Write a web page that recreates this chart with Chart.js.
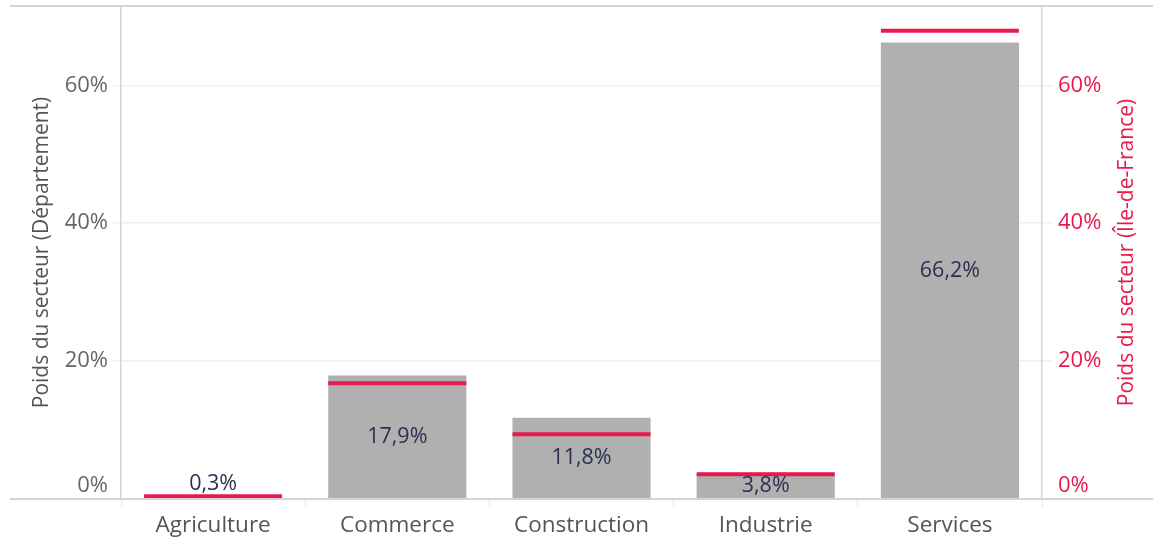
<!DOCTYPE html>
<html>
<head>
<meta charset="utf-8">
<script src="https://cdn.jsdelivr.net/npm/chart.js@4/dist/chart.umd.min.js"></script>
<style>
  html, body { margin: 0; padding: 0; background: #ffffff; }
  #wrap { width: 1153px; height: 537px; position: relative; }
</style>
</head>
<body>
<div id="wrap"><canvas id="c" width="1153" height="537"></canvas></div>
<script>
const categories = ['Agriculture', 'Commerce', 'Construction', 'Industrie', 'Services'];
const departementValues = [0.3, 17.9, 11.8, 3.8, 66.2];
const ileDeFranceValues = [0.4, 16.8, 9.4, 3.6, 67.9];
const tickValues = [0, 20, 40, 60];
const axisMax = 71.5;
const leftTitle = 'Poids du secteur (Département)';
const rightTitle = 'Poids du secteur (Île-de-France)';

const FONT = '"Open Sans", "Noto Sans", sans-serif';
const RED = '#e8194c';
const BAR = '#b0b0b0';
const LABEL = '#2b3050';
const GRAY = '#666666';
const LINE = '#d4d4d4';

function fmt(v) { return v.toFixed(1).replace('.', ',') + '%'; }
function tickFmt(v) { return v === 0 ? ['0%', ''] : v + '%'; }

const extras = {
  id: 'extras',
  afterDatasetsDraw(chart) {
    const ctx = chart.ctx;
    const meta = chart.getDatasetMeta(0);
    ctx.save();
    ctx.font = '21.5px ' + FONT;
    ctx.fillStyle = LABEL;
    ctx.textAlign = 'center';
    ctx.textBaseline = 'middle';
    meta.data.forEach((bar, i) => {
      const h = bar.base - bar.y;
      const y = h > 20 ? (bar.y + bar.base) / 2 : bar.y - 13;
      ctx.fillText(fmt(departementValues[i]), bar.x, y);
    });
    ctx.restore();
  },
  afterDraw(chart) {
    const ctx = chart.ctx;
    const a = chart.chartArea;
    ctx.save();
    ctx.strokeStyle = LINE;
    ctx.lineWidth = 2;
    ctx.beginPath();
    ctx.moveTo(10, a.top); ctx.lineTo(chart.width, a.top);
    ctx.moveTo(10, a.bottom); ctx.lineTo(chart.width, a.bottom);
    ctx.stroke();
    const cy = (a.top + a.bottom) / 2;
    ctx.font = '21px ' + FONT;
    ctx.textAlign = 'center';
    ctx.textBaseline = 'middle';
    ctx.fillStyle = '#555555';
    ctx.translate(42, cy);
    ctx.rotate(-Math.PI / 2);
    ctx.fillText(leftTitle, 0, 0);
    ctx.restore();
    ctx.save();
    ctx.font = '21px ' + FONT;
    ctx.textAlign = 'center';
    ctx.textBaseline = 'middle';
    ctx.fillStyle = RED;
    ctx.translate(1127, cy);
    ctx.rotate(-Math.PI / 2);
    ctx.fillText(rightTitle, 0, 0);
    ctx.restore();
  }
};

function fixPad(s) { s.paddingTop = 0; s.paddingBottom = 0; s.paddingLeft = 0; s.paddingRight = 0; }

new Chart(document.getElementById('c'), {
  data: {
    labels: categories,
    datasets: [
      {
        type: 'bar',
        label: 'Département',
        data: departementValues,
        backgroundColor: BAR,
        borderWidth: 0,
        categoryPercentage: 0.75,
        barPercentage: 1,
        yAxisID: 'y',
        order: 2
      },
      {
        type: 'line',
        label: 'Île-de-France',
        data: ileDeFranceValues,
        showLine: false,
        pointStyle: 'line',
        pointRadius: 69,
        pointHoverRadius: 69,
        pointBorderWidth: 4,
        pointHoverBorderWidth: 4,
        borderColor: RED,
        pointBorderColor: RED,
        backgroundColor: RED,
        yAxisID: 'y2',
        clip: false,
        order: 1
      }
    ]
  },
  options: {
    responsive: false,
    animation: false,
    events: [],
    layout: { autoPadding: false, padding: { top: 6, left: 0, right: 0, bottom: 0 } },
    plugins: { legend: { display: false }, tooltip: { enabled: false } },
    scales: {
      x: {
        offset: true,
        grid: { display: true, offset: true, drawOnChartArea: false, tickLength: 8, color: '#e6e6e6', lineWidth: 1 },
        border: { display: false },
        ticks: { color: '#555555', font: { family: FONT, size: 22.5 }, padding: 5, maxRotation: 0 },
        afterFit(s) { s.height = 38; fixPad(s); }
      },
      y: {
        position: 'left',
        min: 0, max: axisMax,
        grid: { color: '#f0f0f0', lineWidth: 1.5, tickLength: 8, drawTicks: true },
        border: { display: true, color: LINE, width: 1.5 },
        ticks: {
          stepSize: 20, includeBounds: false, padding: 5,
          color: GRAY, font: { family: FONT, size: 22 },
          callback: (v) => tickValues.includes(v) ? tickFmt(v) : null
        },
        afterFit(s) { s.width = 121; fixPad(s); }
      },
      y2: {
        position: 'right',
        min: 0, max: axisMax,
        grid: { display: true, drawOnChartArea: false, color: '#f0f0f0', lineWidth: 1.5, tickLength: 10 },
        border: { display: true, color: LINE, width: 1.5 },
        ticks: {
          stepSize: 20, includeBounds: false, padding: 6,
          color: RED, font: { family: FONT, size: 22 },
          callback: (v) => tickValues.includes(v) ? tickFmt(v) : null
        },
        afterFit(s) { s.width = 111; fixPad(s); }
      }
    }
  },
  plugins: [extras]
});
</script>
</body>
</html>
